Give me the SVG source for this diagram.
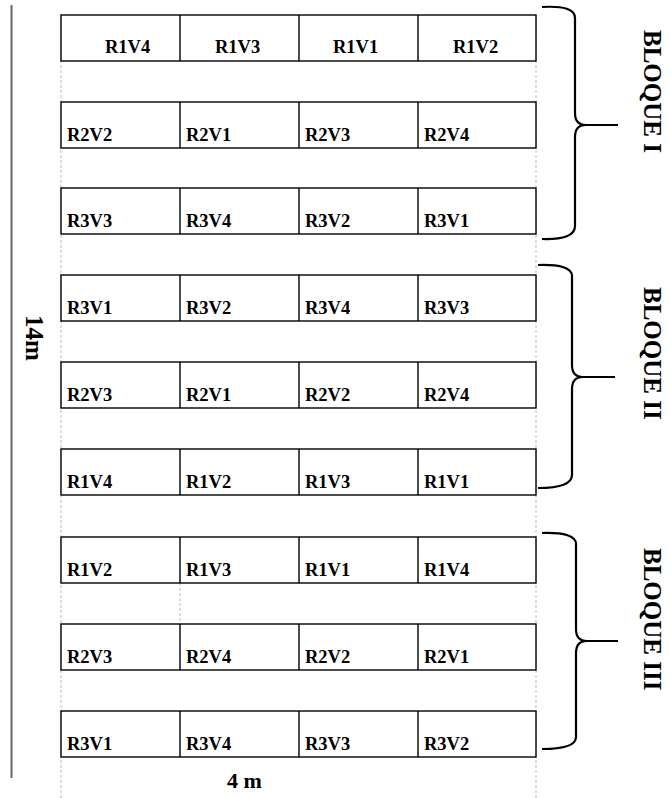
<svg xmlns="http://www.w3.org/2000/svg" width="671" height="798" viewBox="0 0 671 798">
<style>
.cell{fill:#fff;stroke:#000;stroke-width:1.4}
.div{stroke:#000;stroke-width:1.4}
.t{font-family:"Liberation Serif","Times New Roman",serif;font-weight:bold;font-size:18.5px;fill:#000}
.big{font-family:"Liberation Serif","Times New Roman",serif;font-weight:bold;font-size:25px;fill:#000}
.dash{stroke:#bbb;stroke-width:1;stroke-dasharray:3 2;fill:none}
.brace{fill:none;stroke:#000;stroke-width:2.2}
</style>
<rect width="671" height="798" fill="#fff"/>
<g id="guides">
<line class="dash" x1="61" y1="15" x2="61" y2="798"/>
<line class="dash" x1="536" y1="15" x2="536" y2="798"/>
<line class="dash" x1="180" y1="583" x2="180" y2="624"/>
<line x1="11.5" y1="5" x2="11.5" y2="778" stroke="#666" stroke-width="2"/>
<text class="t" transform="translate(26,338) rotate(90)" text-anchor="middle" style="font-size:25px">14m</text>
<text class="t" x="227" y="788" style="font-size:22px">4 m</text>
</g>
<g id="row1">
<rect class="cell" x="61" y="15" width="475" height="46"/>
<line class="div" x1="180" y1="15" x2="180" y2="61"/><line class="div" x1="299" y1="15" x2="299" y2="61"/><line class="div" x1="418" y1="15" x2="418" y2="61"/>
<text class="t" x="105" y="53">R1V4</text><text class="t" x="215" y="53">R1V3</text><text class="t" x="333" y="53">R1V1</text><text class="t" x="453" y="53">R1V2</text>
</g>
<g id="row2">
<rect class="cell" x="61" y="102" width="475" height="46"/>
<line class="div" x1="180" y1="102" x2="180" y2="148"/><line class="div" x1="299" y1="102" x2="299" y2="148"/><line class="div" x1="418" y1="102" x2="418" y2="148"/>
<text class="t" x="67" y="141">R2V2</text><text class="t" x="186" y="141">R2V1</text><text class="t" x="305" y="141">R2V3</text><text class="t" x="424" y="141">R2V4</text>
</g>
<g id="row3">
<rect class="cell" x="61" y="188" width="475" height="46"/>
<line class="div" x1="180" y1="188" x2="180" y2="234"/><line class="div" x1="299" y1="188" x2="299" y2="234"/><line class="div" x1="418" y1="188" x2="418" y2="234"/>
<text class="t" x="67" y="227">R3V3</text><text class="t" x="186" y="227">R3V4</text><text class="t" x="305" y="227">R3V2</text><text class="t" x="424" y="227">R3V1</text>
</g>
<g id="row4">
<rect class="cell" x="61" y="275" width="475" height="46"/>
<line class="div" x1="180" y1="275" x2="180" y2="321"/><line class="div" x1="299" y1="275" x2="299" y2="321"/><line class="div" x1="418" y1="275" x2="418" y2="321"/>
<text class="t" x="67" y="314">R3V1</text><text class="t" x="186" y="314">R3V2</text><text class="t" x="305" y="314">R3V4</text><text class="t" x="424" y="314">R3V3</text>
</g>
<g id="row5">
<rect class="cell" x="61" y="362" width="475" height="46"/>
<line class="div" x1="180" y1="362" x2="180" y2="408"/><line class="div" x1="299" y1="362" x2="299" y2="408"/><line class="div" x1="418" y1="362" x2="418" y2="408"/>
<text class="t" x="67" y="401">R2V3</text><text class="t" x="186" y="401">R2V1</text><text class="t" x="305" y="401">R2V2</text><text class="t" x="424" y="401">R2V4</text>
</g>
<g id="row6">
<rect class="cell" x="61" y="449" width="475" height="46"/>
<line class="div" x1="180" y1="449" x2="180" y2="495"/><line class="div" x1="299" y1="449" x2="299" y2="495"/><line class="div" x1="418" y1="449" x2="418" y2="495"/>
<text class="t" x="67" y="488">R1V4</text><text class="t" x="186" y="488">R1V2</text><text class="t" x="305" y="488">R1V3</text><text class="t" x="424" y="488">R1V1</text>
</g>
<g id="row7">
<rect class="cell" x="61" y="537" width="475" height="46"/>
<line class="div" x1="180" y1="537" x2="180" y2="583"/><line class="div" x1="299" y1="537" x2="299" y2="583"/><line class="div" x1="418" y1="537" x2="418" y2="583"/>
<text class="t" x="67" y="576">R1V2</text><text class="t" x="186" y="576">R1V3</text><text class="t" x="305" y="576">R1V1</text><text class="t" x="424" y="576">R1V4</text>
</g>
<g id="row8">
<rect class="cell" x="61" y="624" width="475" height="46"/>
<line class="div" x1="180" y1="624" x2="180" y2="670"/><line class="div" x1="299" y1="624" x2="299" y2="670"/><line class="div" x1="418" y1="624" x2="418" y2="670"/>
<text class="t" x="67" y="663">R2V3</text><text class="t" x="186" y="663">R2V4</text><text class="t" x="305" y="663">R2V2</text><text class="t" x="424" y="663">R2V1</text>
</g>
<g id="row9">
<rect class="cell" x="61" y="711" width="475" height="46"/>
<line class="div" x1="180" y1="711" x2="180" y2="757"/><line class="div" x1="299" y1="711" x2="299" y2="757"/><line class="div" x1="418" y1="711" x2="418" y2="757"/>
<text class="t" x="67" y="750">R3V1</text><text class="t" x="186" y="750">R3V4</text><text class="t" x="305" y="750">R3V3</text><text class="t" x="424" y="750">R3V2</text>
</g>
<g id="bloque1">
<path class="brace" d="M542,7 Q575,5 575,18 L575,113 Q575,125 586,125 L618,125 M586,125 Q575,125 575,137 L575,226 Q575,240 542,239"/>
<text class="big" transform="translate(644,30) rotate(90)">BLOQUE I</text>
</g>
<g id="bloque2">
<path class="brace" d="M538,265 Q572,264 572,276 L572,365 Q572,377 583,377 L615,377 M583,377 Q572,377 572,389 L572,475 Q572,488 538,488"/>
<text class="big" transform="translate(644,287) rotate(90)">BLOQUE II</text>
</g>
<g id="bloque3">
<path class="brace" d="M542,533 Q576,532 576,544 L576,629 Q576,641 587,641 L618,641 M587,641 Q576,641 576,653 L576,737 Q576,749 542,749"/>
<text class="big" transform="translate(644,548) rotate(90)">BLOQUE III</text>
</g>
</svg>
